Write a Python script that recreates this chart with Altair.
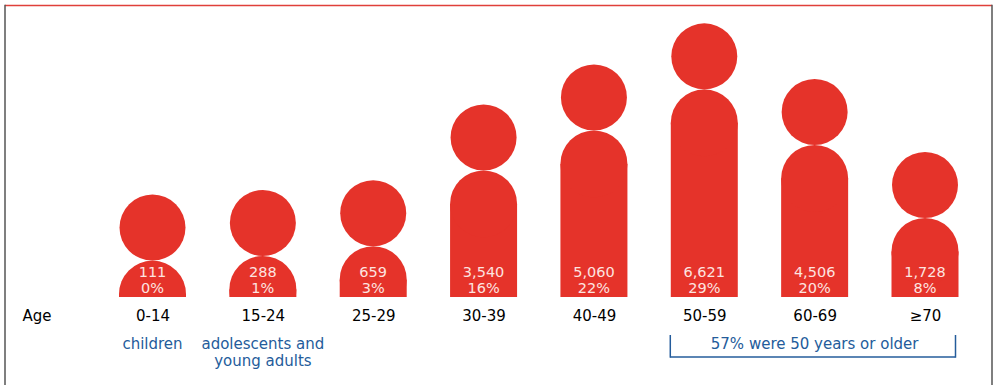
import altair as alt
import pandas as pd

# ---------------- data ----------------
ages = ["0-14", "15-24", "25-29", "30-39", "40-49", "50-59", "60-69", "≥70"]
counts = [111, 288, 659, 3540, 5060, 6621, 4506, 1728]
shares = [0, 1, 3, 16, 22, 29, 20, 8]

note_ages = ["0-14", "15-24", "60-69"]
note_texts = ["children", "adolescents and\nyoung adults", "57% were 50 years or older"]

bracket_from = ["50-59"]
bracket_to = ["≥70"]

# ---------------- style ----------------
RED = "#e5332a"
BLUE = "#245c9b"
FONT = "DejaVu Sans"
W, H = 987, 291
PX = 0.0263            # pixels per person
BAR = 67
R = BAR / 2
HEAD_D = 66
Y_MAX = H / PX

df = pd.DataFrame({"age": ages, "count": counts, "share": shares})
df["count_label"] = [f"{c:,}" for c in counts]
df["share_label"] = [f"{s}%" for s in shares]

notes = pd.DataFrame({"age": note_ages, "text": note_texts})
brk = pd.DataFrame({"a": bracket_from, "b": bracket_to})
one = pd.DataFrame({"k": [0]})

xscale = alt.Scale(type="point", domain=ages, range=[147.5, 920], padding=0)
xaxis = alt.Axis(
    title="Age", labelAngle=0, domain=False, ticks=False, tickSize=0, grid=False,
    labelFont=FONT, labelFontSize=15, labelColor="#000", labelPadding=23,
    labelBaseline="alphabetic",
    titleFont=FONT, titleFontSize=15, titleColor="#000", titleFontWeight="normal",
    titleX=31.5, titleY=23, titleAlign="center", titleBaseline="alphabetic", titleAngle=0,
)
X = alt.X("age:N", sort=ages, scale=xscale, axis=xaxis)
yscale = alt.Scale(domain=[0, Y_MAX], nice=False, zero=True)
Y = alt.Y("count:Q", scale=yscale, axis=None)

base = alt.Chart(df)

body = base.mark_bar(width=BAR, color=RED).encode(x=X, y=Y, y2=alt.datum(0))

cap = base.mark_circle(size=BAR * BAR, opacity=1, color=RED, clip=True).encode(x=X, y=Y)

head = base.mark_circle(
    size=HEAD_D * HEAD_D, opacity=1, color=RED, yOffset=-(R + HEAD_D / 2)
).encode(x=X, y=Y)

count_text = base.mark_text(
    font=FONT, fontSize=14.5, color="#fde4e0", baseline="alphabetic", dy=-20
).encode(x=X, y=alt.datum(0), text="count_label:N")

share_text = base.mark_text(
    font=FONT, fontSize=14.5, color="#fde4e0", baseline="alphabetic", dy=-4.5
).encode(x=X, y=alt.datum(0), text="share_label:N")

note_text = alt.Chart(notes).mark_text(
    font=FONT, fontSize=15, color=BLUE, baseline="alphabetic", lineBreak="\n", lineHeight=16.5
).encode(x=X, y=alt.value(343), text="text:N")

Xa = alt.X("a:N", scale=xscale, axis=xaxis)
brk_h = alt.Chart(brk).mark_rule(
    color=BLUE, strokeWidth=1.5, xOffset=-BAR / 2 - 0.5, x2Offset=BAR / 2 - 3
).encode(x=Xa, x2="b:N", y=alt.value(351))
brk_l = alt.Chart(brk).mark_rule(color=BLUE, strokeWidth=1.5, xOffset=-BAR / 2 - 0.5).encode(
    x=Xa, y=alt.value(329), y2=alt.value(351.7)
)
brk_r = alt.Chart(brk).mark_rule(color=BLUE, strokeWidth=1.5, xOffset=BAR / 2 - 3).encode(
    x=alt.X("b:N", scale=xscale, axis=xaxis), y=alt.value(329), y2=alt.value(351.7)
)

top_line = alt.Chart(one).mark_rule(color="#e0403a", strokeWidth=1.5).encode(
    x=alt.value(0), x2=alt.value(W), y=alt.value(-0.5)
)
left_line = alt.Chart(one).mark_rule(color="#555555", strokeWidth=1.5).encode(
    x=alt.value(0), y=alt.value(-1.2), y2=alt.value(385)
)
right_line = alt.Chart(one).mark_rule(color="#555555", strokeWidth=1.5).encode(
    x=alt.value(W), y=alt.value(-1.2), y2=alt.value(385)
)

chart = alt.layer(
    body, cap, head, count_text, share_text, note_text, brk_h, brk_l, brk_r,
    top_line, left_line, right_line,
).properties(
    width=W, height=H,
    padding={"left": 5, "top": 6, "right": 3, "bottom": 88},
    autosize="none",
).configure(
    font=FONT, background="white", view=alt.ViewConfig(strokeWidth=0, stroke=None)
)

chart.save("out.html", embed_options={"renderer": "svg", "actions": False})
